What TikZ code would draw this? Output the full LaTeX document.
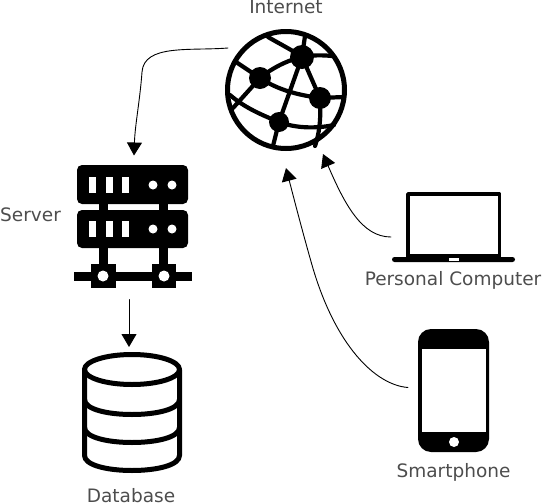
\documentclass[tikz,border=0pt]{standalone}
\usepackage{fontspec}
\setmainfont{DejaVu Sans}
\usetikzlibrary{arrows.meta,calc}
\definecolor{labelgray}{HTML}{4D4D4D}
\tikzset{
    iconbox/.style={inner sep=0pt,outer sep=0pt},
    lbl/.style={text=labelgray,inner sep=0pt,anchor=base,font=\fontsize{18.5}{20}\selectfont},
    wire/.style={line width=0.9pt,->},
    globeline/.style={line width=4.2pt},
    dbline/.style={line width=5pt}
}
\begin{document}
\begin{tikzpicture}[line cap=round,line join=round,>={Triangle[length=13pt,width=15pt]},x=1pt,y=-1pt]
    \useasboundingbox (0,0) rectangle (542,504);
    % icon boxes, the connectors hang on these
    \node [iconbox,minimum width=122pt,minimum height=122pt] (globe) at (286,90) {};
    \node [iconbox,minimum width=118pt,minimum height=123pt] (server) at (133,227) {};
    \node [iconbox,minimum width=100pt,minimum height=121pt] (database) at (132,412.5) {};
    \node [iconbox,minimum width=123pt,minimum height=70pt] (laptop) at (453.5,227) {};
    \node [iconbox,minimum width=71pt,minimum height=123pt] (phone) at (453.5,390.5) {};
    % labels
    \node [lbl] (internetlabel) at (286,13.5) {Internet};
    \node [lbl,anchor=base west] (serverlabel) at (0,221) {Server};
    \node [lbl] (pclabel) at (453,285.5) {Personal Computer};
    \node [lbl] (phonelabel) at (453.5,477) {Smartphone};
    \node [lbl] (dblabel) at (131,502.5) {Database};
    % connectors
    \draw [wire] ([shift={(-58,-42)}]globe.center) .. controls (190,51) and (144,44) .. (142,72) .. controls (140,100) and (135,125) .. ([shift={(1,-10)}]server.north);
    \draw [wire] ([shift={(-4,11)}]server.south) -- ([shift={(-3,-5)}]database.north);
    \draw [wire] ([shift={(-1,10)}]laptop.west) .. controls (362,237) and (345,205) .. ([shift={(37,64)}]globe.center);
    \draw [wire] ([shift={(-10,-3)}]phone.west) .. controls (375,385) and (335,345) .. (312,265) .. controls (302,230) and (293,195) .. ([shift={(0,78)}]globe.center);
    % globe
    \draw [line width=5pt] (286,90) circle (58.5);
    \draw [globeline] (268,37) .. controls (280,44) and (292,50) .. (302,57);
    \draw [globeline] (305,36) -- (302,57);
    \draw [globeline] (302,57) .. controls (312,55) and (322,55) .. (332,56);
    \draw [globeline] (302,57) .. controls (288,60) and (272,68) .. (260,78);
    \draw [globeline] (236,62) -- (260,78);
    \draw [globeline] (260,78) -- (233,108);
    \draw [globeline] (230,95) .. controls (245,108) and (262,115) .. (279,122);
    \draw [globeline] (260,78) .. controls (278,90) and (298,95) .. (320,98);
    \draw [globeline] (302,57) -- (279,122);
    \draw [globeline] (302,57) -- (320,98);
    \draw [globeline] (320,98) -- (344,97);
    \draw [globeline] (320,98) .. controls (321,115) and (320,132) .. (315,146);
    \draw [globeline] (279,122) .. controls (295,128) and (315,129) .. (334,125);
    \draw [globeline] (279,122) -- (273,146);
    \fill (302,57) circle (12);
    \fill (260,78) circle (11);
    \fill (320,98) circle (11);
    \fill (279,122) circle (10);
    % server
    \fill [rounded corners=5pt] (77,165) rectangle (188,204);
    \fill [rounded corners=5pt] (77,210) rectangle (188,248);
    \fill (99,204) rectangle (108,210);
    \fill (159,204) rectangle (168,210);
    \fill (99,248) rectangle (108,266);
    \fill (159,248) rectangle (168,266);
    \fill (74,272) rectangle (192,281);
    \fill (91,264) rectangle (116,288);
    \fill (152,264) rectangle (176,288);
    \fill [white] (89,177) rectangle (96,193);
    \fill [white] (106,177) rectangle (113,193);
    \fill [white] (122,177) rectangle (129,193);
    \fill [white] (153,185) circle (4.5);
    \fill [white] (172,185) circle (4.5);
    \fill [white] (89,221) rectangle (96,237);
    \fill [white] (106,221) rectangle (113,237);
    \fill [white] (122,221) rectangle (129,237);
    \fill [white] (153,229) circle (4.5);
    \fill [white] (172,229) circle (4.5);
    \fill [white] (103,276) circle (5.5);
    \fill [white] (164,276) circle (5.5);
    % database
    \draw [dbline] (132,369.5) circle [x radius=47.5,y radius=15];
    \draw [dbline] (84.5,369.5) -- (84.5,455.5) .. controls (84.5,475.5) and (179.5,475.5) .. (179.5,455.5) -- (179.5,369.5);
    \draw [dbline] (84.5,399.5) .. controls (84.5,419.5) and (179.5,419.5) .. (179.5,399.5);
    \draw [dbline] (84.5,427.5) .. controls (84.5,447.5) and (179.5,447.5) .. (179.5,427.5);
    % laptop
    \draw [line width=3.5pt] (408,256) -- (408,194) -- (499.5,194) -- (499.5,256);
    \fill [rounded corners=2.5pt] (392,257) rectangle (515,262);
    \fill (406,254) rectangle (501,258);
    \fill [white] (449,258) rectangle (459,261);
    % phone
    \fill [rounded corners=13pt] (418,329) rectangle (489,452);
    \fill [white] (422,349) rectangle (486,432);
    \fill [white] (454,442) circle (5);
\end{tikzpicture}
\end{document}
